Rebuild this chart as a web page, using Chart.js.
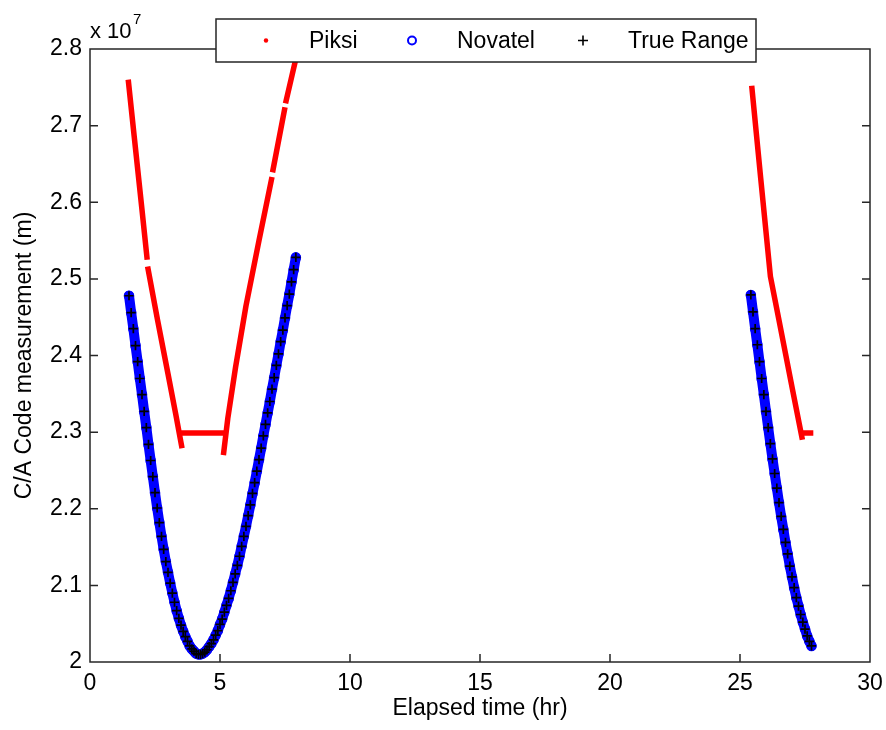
<!DOCTYPE html>
<html><head><meta charset="utf-8">
<script src="https://cdn.jsdelivr.net/npm/chart.js@4.4.1/dist/chart.umd.min.js"></script>
<style>html,body{margin:0;padding:0;background:#fff;}#c{display:block;}</style>
</head><body>
<canvas id="c" width="886" height="730"></canvas>
<script>
// ---------- data ----------
const seriesNames = ['Piksi', 'Novatel', 'True Range'];
const xTickValues = [0, 5, 10, 15, 20, 25, 30];
const xTickLabels = ['0', '5', '10', '15', '20', '25', '30'];
const yTickValues = [2, 2.1, 2.2, 2.3, 2.4, 2.5, 2.6, 2.7, 2.8];
const yTickLabels = ['2', '2.1', '2.2', '2.3', '2.4', '2.5', '2.6', '2.7', '2.8'];
const xTitle = 'Elapsed time (hr)';
const yTitle = 'C/A Code measurement (m)';
const yExponent = '7';

// pass 1 (hours)
const pass1Time = [1.5,1.583,1.667,1.75,1.833,1.917,2,2.083,2.167,2.25,
  2.333,2.417,2.5,2.583,2.667,2.75,2.833,2.917,3,3.083,
  3.167,3.25,3.333,3.417,3.5,3.583,3.667,3.75,3.833,3.917,
  4,4.083,4.167,4.25,4.333,4.417,4.5,4.583,4.667,4.75,
  4.833,4.917,5,5.083,5.167,5.25,5.333,5.417,5.5,5.583,
  5.667,5.75,5.833,5.917,6,6.083,6.167,6.25,6.333,6.417,
  6.5,6.583,6.667,6.75,6.833,6.917,7,7.083,7.167,7.25,
  7.333,7.417,7.5,7.583,7.667,7.75,7.833,7.917];
// values in units of 1e7 m
const trueRange1 = [2.478,2.456,2.435,2.413,2.392,2.370,2.349,2.327,2.306,2.284,
  2.263,2.242,2.221,2.201,2.182,2.164,2.147,2.131,2.117,2.103,
  2.090,2.078,2.067,2.057,2.048,2.040,2.033,2.027,2.021,2.017,
  2.014,2.011,2.010,2.010,2.011,2.013,2.016,2.020,2.024,2.029,
  2.035,2.041,2.049,2.056,2.065,2.074,2.083,2.093,2.104,2.115,
  2.126,2.138,2.151,2.164,2.177,2.191,2.205,2.220,2.234,2.249,
  2.264,2.279,2.295,2.310,2.325,2.340,2.356,2.371,2.387,2.402,
  2.418,2.433,2.449,2.465,2.480,2.496,2.512,2.528];
const novatel1 = [2.478,2.456,2.435,2.413,2.392,2.370,2.349,2.327,2.306,2.284,
  2.263,2.242,2.221,2.201,2.182,2.164,2.147,2.131,2.117,2.103,
  2.090,2.078,2.067,2.057,2.048,2.040,2.033,2.027,2.021,2.017,
  2.014,2.011,2.010,2.010,2.011,2.013,2.016,2.020,2.024,2.029,
  2.035,2.041,2.049,2.056,2.065,2.074,2.083,2.093,2.104,2.115,
  2.126,2.138,2.151,2.164,2.177,2.191,2.205,2.220,2.234,2.249,
  2.264,2.279,2.295,2.310,2.325,2.340,2.356,2.371,2.387,2.402,
  2.418,2.433,2.449,2.465,2.480,2.496,2.512,2.528];

// pass 2 (hours)
const pass2Time = [25.417,25.5,25.583,25.667,25.75,25.833,25.917,26,26.083,26.167,
  26.25,26.333,26.417,26.5,26.583,26.667,26.75,26.833,26.917,27,
  27.083,27.167,27.25,27.333,27.417,27.5,27.583,27.667,27.75];
const trueRange2 = [2.479,2.457,2.435,2.414,2.392,2.370,2.349,2.327,2.306,2.285,
  2.265,2.246,2.227,2.208,2.190,2.173,2.156,2.141,2.125,2.111,
  2.097,2.084,2.073,2.062,2.052,2.043,2.034,2.027,2.021];
const novatel2 = [2.479,2.457,2.435,2.414,2.392,2.370,2.349,2.327,2.306,2.285,
  2.265,2.246,2.227,2.208,2.190,2.173,2.156,2.141,2.125,2.111,
  2.097,2.084,2.073,2.062,2.052,2.043,2.034,2.027,2.021];

// Piksi (null = data gap)
const piksiTime = [1.47,1.7,2.0,2.2,2.2,2.215,2.6,3.0,3.3,3.54,3.54,
  3.52,5.19,5.19,
  5.13,5.3,5.6,6.0,6.5,7.0,7.0,7.02,7.5,7.5,7.52,7.95,7.95,
  25.45,25.8,26.17,26.5,27.0,27.4,27.4,
  27.36,27.82];
const piksiRange = [2.760,2.686,2.590,2.525,null,2.516,2.446,2.376,2.323,2.279,null,
  2.299,2.299,null,
  2.270,2.318,2.385,2.465,2.550,2.633,null,2.639,2.724,null,2.729,2.792,null,
  2.752,2.630,2.503,2.446,2.359,2.290,null,
  2.299,2.299];

// ---------- build ----------
const FONT = "'Liberation Sans', Arial, Helvetica, sans-serif";
const toPts = (t, v) => t.map((x, i) => ({x: x, y: v[i]}));
const breakAfter = t => ({x: t[t.length - 1], y: null});

const truePts = [...toPts(pass1Time, trueRange1), breakAfter(pass1Time), ...toPts(pass2Time, trueRange2)];
const novPts = [...toPts(pass1Time, novatel1), breakAfter(pass1Time), ...toPts(pass2Time, novatel2)];
const piksiPts = toPts(piksiTime, piksiRange);

const legendStyle = [
  {marker: 'dot', color: '#ff0000'},
  {marker: 'circle', color: '#0000ff'},
  {marker: 'plus', color: '#000000'}
];

const boxPlugin = {
  id: 'matlabBox',
  afterDatasetsDraw(chart) {
    const {ctx, chartArea: a, scales} = chart;
    ctx.save();
    ctx.strokeStyle = '#262626';
    ctx.lineWidth = 1.5;
    ctx.strokeRect(a.left, a.top, a.right - a.left, a.bottom - a.top);
    const L = 8;
    ctx.beginPath();
    scales.x.ticks.forEach(t => {
      const p = scales.x.getPixelForValue(t.value);
      if (p <= a.left + 1 || p >= a.right - 1) return;
      ctx.moveTo(p, a.bottom); ctx.lineTo(p, a.bottom - L);
      ctx.moveTo(p, a.top); ctx.lineTo(p, a.top + L);
    });
    scales.y.ticks.forEach(t => {
      const p = scales.y.getPixelForValue(t.value);
      if (p <= a.top + 1 || p >= a.bottom - 1) return;
      ctx.moveTo(a.left, p); ctx.lineTo(a.left + L, p);
      ctx.moveTo(a.right, p); ctx.lineTo(a.right - L, p);
    });
    ctx.stroke();
    // exponent label
    ctx.fillStyle = '#000';
    ctx.textBaseline = 'alphabetic';
    ctx.textAlign = 'left';
    ctx.font = '22px ' + FONT;
    ctx.fillText('x 10', a.left, 38);
    ctx.font = '15px ' + FONT;
    ctx.fillText(yExponent, a.left + 43, 24);
    ctx.restore();
  },
  afterDraw(chart) {
    const {ctx} = chart;
    const bx = 216, by = 19, bw = 540, bh = 43;
    ctx.save();
    ctx.fillStyle = '#fff';
    ctx.fillRect(bx, by, bw, bh);
    ctx.strokeStyle = '#262626';
    ctx.lineWidth = 1.5;
    ctx.strokeRect(bx, by, bw, bh);
    const markerX = [266, 412, 583];
    const textX = [309, 457, 628];
    const cy = by + bh / 2;
    ctx.font = '23px ' + FONT;
    ctx.textBaseline = 'middle';
    ctx.textAlign = 'left';
    chart.data.datasets.forEach((ds, i) => {
      const st = legendStyle[i];
      ctx.strokeStyle = st.color; ctx.fillStyle = st.color;
      if (st.marker === 'dot') {
        ctx.beginPath(); ctx.arc(markerX[i], cy, 2.2, 0, Math.PI * 2); ctx.fill();
      } else if (st.marker === 'circle') {
        ctx.lineWidth = 2;
        ctx.beginPath(); ctx.arc(markerX[i], cy, 4, 0, Math.PI * 2); ctx.stroke();
      } else {
        ctx.lineWidth = 1.6;
        ctx.beginPath();
        ctx.moveTo(markerX[i] - 5, cy); ctx.lineTo(markerX[i] + 5, cy);
        ctx.moveTo(markerX[i], cy - 5); ctx.lineTo(markerX[i], cy + 5);
        ctx.stroke();
      }
      ctx.fillStyle = '#000';
      ctx.fillText(ds.label, textX[i], cy + 1);
    });
    ctx.restore();
  }
};

Chart.defaults.color = '#000';
Chart.defaults.font.family = FONT;

new Chart(document.getElementById('c'), {
  type: 'scatter',
  data: {
    datasets: [
      {
        label: seriesNames[0], data: piksiPts, showLine: true, spanGaps: false,
        borderColor: '#ff0000', borderWidth: 5.5, borderCapStyle: 'butt', borderJoinStyle: 'round',
        pointRadius: 0, pointHoverRadius: 0, tension: 0, order: 3
      },
      {
        label: seriesNames[1], data: novPts, showLine: true, spanGaps: false,
        borderColor: '#0000ff', borderWidth: 10, borderCapStyle: 'round', borderJoinStyle: 'round',
        pointStyle: 'circle', pointRadius: 4.4, pointBorderWidth: 1.8,
        pointBorderColor: '#0000ff', pointBackgroundColor: 'rgba(0,0,0,0)', tension: 0, order: 2
      },
      {
        label: seriesNames[2], data: truePts, showLine: false,
        pointStyle: 'cross', pointRadius: 4.6, pointBorderWidth: 1.7,
        pointBorderColor: '#000000', pointBackgroundColor: '#000000', order: 1
      }
    ]
  },
  options: {
    responsive: false,
    animation: false,
    devicePixelRatio: 1,
    events: [],
    layout: {padding: {left: 0, right: 16, top: 49, bottom: 0}},
    plugins: {legend: {display: false}, tooltip: {enabled: false}, title: {display: false}},
    scales: {
      x: {
        type: 'linear', min: 0, max: 30,
        grid: {display: false, drawTicks: false},
        border: {display: false},
        ticks: {
          stepSize: 5, padding: 8, maxRotation: 0, autoSkip: false,
          font: {size: 23, family: FONT}, color: '#000',
          callback: v => { const i = xTickValues.findIndex(t => Math.abs(t - v) < 1e-6); return i >= 0 ? xTickLabels[i] : ''; }
        },
        title: {display: true, text: xTitle, font: {size: 23, family: FONT}, color: '#000', padding: {top: 0, bottom: 8}},
        afterFit: s => { s.height = 68; s.paddingLeft = 0; s.paddingRight = 0; }
      },
      y: {
        type: 'linear', min: 2, max: 2.8,
        grid: {display: false, drawTicks: false},
        border: {display: false},
        ticks: {
          stepSize: 0.1, padding: 8, autoSkip: false,
          font: {size: 23, family: FONT}, color: '#000',
          callback: v => { const i = yTickValues.findIndex(t => Math.abs(t - v) < 1e-6); return i >= 0 ? yTickLabels[i] : ''; }
        },
        title: {display: true, text: yTitle, font: {size: 23, family: FONT}, color: '#000', padding: {top: 11, bottom: 0}},
        afterFit: s => { s.width = 90; s.paddingTop = 0; s.paddingBottom = 0; }
      }
    }
  },
  plugins: [boxPlugin]
});
</script>
</body></html>
